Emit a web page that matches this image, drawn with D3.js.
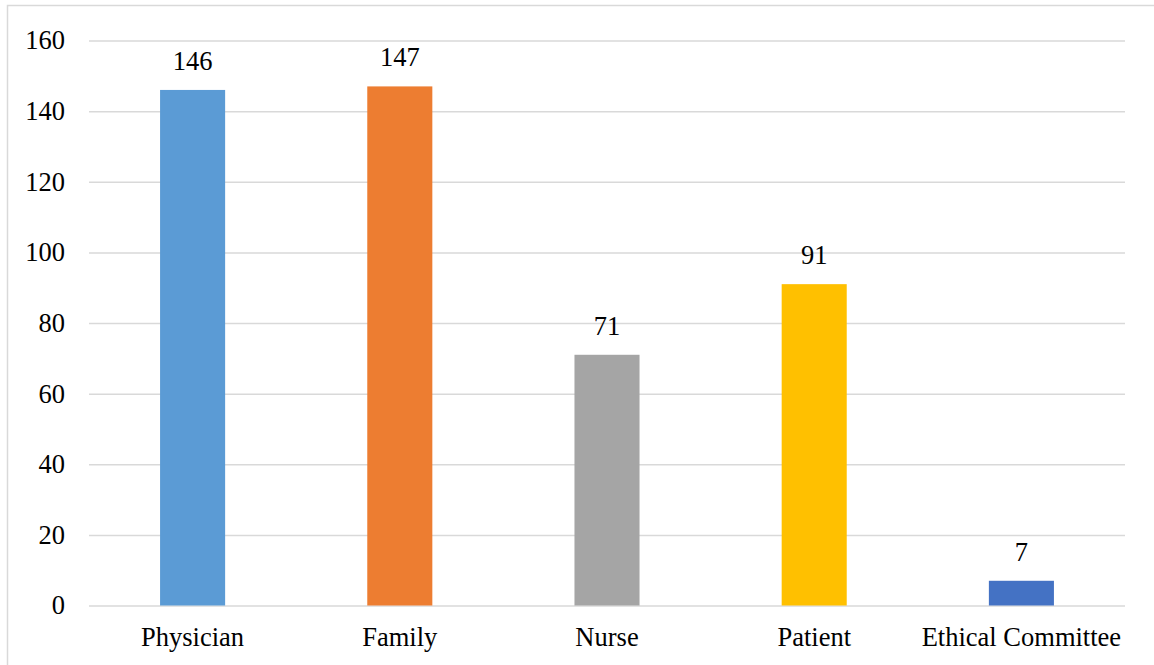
<!DOCTYPE html>
<html>
<head>
<meta charset="utf-8">
<script src="https://cdn.jsdelivr.net/npm/d3@7"></script>
<style>
  html, body { margin: 0; padding: 0; background: #fff; }
  svg { display: block; }
</style>
</head>
<body>
<svg id="chart" width="1154" height="665"></svg>
<script>
// Who makes the decision: counts by decision maker
const categories = ["Physician", "Family", "Nurse", "Patient", "Ethical Committee"];
const values = [146, 147, 71, 91, 7];
const colors = ["#5B9BD5", "#ED7D31", "#A5A5A5", "#FFC000", "#4472C4"];
const yTicks = [0, 20, 40, 60, 80, 100, 120, 140, 160];

const svg = d3.select("#chart");
const W = 1154, H = 665;
const margin = { left: 89, right: 29, top: 40.5, bottom: 59.5 };
const font = "'Liberation Serif', 'Times New Roman', serif";
const fontSize = 26.5;

// outer chart frame
svg.append("rect")
  .attr("x", 7.5).attr("y", 5.5)
  .attr("width", W + 10).attr("height", H + 10)
  .attr("fill", "#fff").attr("stroke", "#D9D9D9").attr("stroke-width", 1.5);

const x = d3.scaleBand()
  .domain(categories)
  .range([margin.left, W - margin.right])
  .paddingInner(0.686).paddingOuter(0.343);

const y = d3.scaleLinear()
  .domain([0, 160])
  .range([H - margin.bottom, margin.top]);

// horizontal gridlines with y tick labels
const yAxis = svg.append("g")
  .attr("transform", `translate(${margin.left},0)`)
  .call(d3.axisLeft(y).tickValues(yTicks).tickSize(-(W - margin.left - margin.right)).tickPadding(24));
yAxis.select(".domain").remove();
yAxis.selectAll(".tick line").attr("stroke", "#D9D9D9").attr("stroke-width", 1.5);
yAxis.selectAll(".tick text")
  .attr("font-family", font).attr("font-size", fontSize).attr("fill", "#000");

// bars
svg.append("g").selectAll("rect")
  .data(categories)
  .join("rect")
  .attr("x", d => x(d))
  .attr("width", x.bandwidth())
  .attr("y", (d, i) => y(values[i]))
  .attr("height", (d, i) => y(0) - y(values[i]))
  .attr("fill", (d, i) => colors[i]);

// value labels
svg.append("g").selectAll("text")
  .data(categories)
  .join("text")
  .attr("x", d => x(d) + x.bandwidth() / 2)
  .attr("y", (d, i) => y(values[i]) - 20)
  .attr("text-anchor", "middle")
  .attr("font-family", font).attr("font-size", fontSize).attr("fill", "#000")
  .text((d, i) => values[i]);

// category labels
const xAxis = svg.append("g")
  .attr("transform", `translate(0,${H - margin.bottom})`)
  .call(d3.axisBottom(x).tickSize(0).tickPadding(22));
xAxis.select(".domain").remove();
xAxis.selectAll(".tick text")
  .attr("font-family", font).attr("font-size", fontSize).attr("fill", "#000");
</script>
</body>
</html>
